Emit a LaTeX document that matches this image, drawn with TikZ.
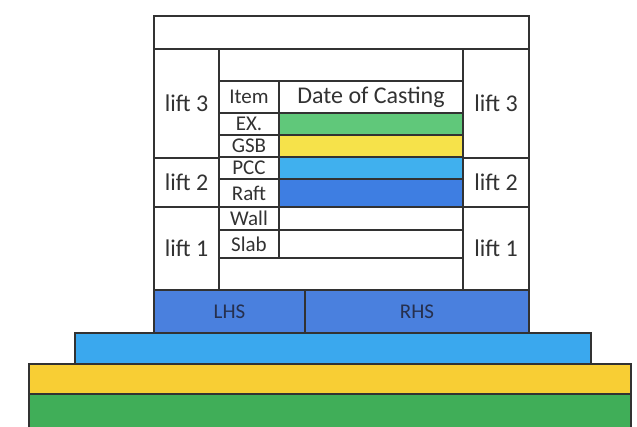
\documentclass[tikz,border=0pt]{standalone}
\usepackage{fontspec}
\setmainfont{Carlito}
\usepackage{tikz}
\usetikzlibrary{positioning}

\definecolor{inkgray}{RGB}{50,50,50}
\definecolor{inknavy}{RGB}{38,48,78}
\definecolor{exgreen}{RGB}{96,200,122}
\definecolor{gsbyellow}{RGB}{246,226,74}
\definecolor{pccblue}{RGB}{64,176,238}
\definecolor{raftblue}{RGB}{62,126,226}
\definecolor{footblue}{RGB}{74,128,222}
\definecolor{layblue}{RGB}{58,168,238}
\definecolor{layyellow}{RGB}{248,206,52}
\definecolor{laygreen}{RGB}{64,174,88}

\begin{document}
\begin{tikzpicture}[x=1pt,y=-1pt,line width=1.2pt,
  lbl/.style={text=inkgray,inner sep=0pt,font=\fontsize{24}{24}\selectfont},
  itm/.style={text=inkgray,inner sep=0pt,font=\fontsize{21}{21}\selectfont}]
  \useasboundingbox (0,0) rectangle (637,427);
  % ground layers
  \fill[laygreen] (29,394) rectangle (631,427);
  \draw[inkgray] (29,427) -- (29,394) -- (631,394) -- (631,427);
  \draw[inkgray,fill=layyellow] (29,364) rectangle (631,394);
  \draw[inkgray,fill=layblue] (75,333) rectangle (591,364);
  \draw[inkgray,fill=footblue] (154,290) rectangle (305,333);
  \draw[inkgray,fill=footblue] (305,290) rectangle (529,333);
  \node[itm,text=inknavy] (lhs) at (229.5,311.5) {LHS};
  \node[itm,text=inknavy] (rhs) at (417,311.5) {RHS};
  % frame
  \draw[inkgray] (154,16) rectangle (529,290);
  \draw[inkgray] (154,49) -- (529,49);
  \draw[inkgray] (219,49) -- (219,290);
  \draw[inkgray] (463,49) -- (463,290);
  \draw[inkgray] (154,158) -- (219,158);
  \draw[inkgray] (154,207) -- (219,207);
  \draw[inkgray] (463,158) -- (529,158);
  \draw[inkgray] (463,207) -- (529,207);
  \node[lbl] (l3a) at (186.5,103.5) {lift 3};
  \node[lbl] (l2a) at (186.5,182.5) {lift 2};
  \node[lbl] (l1a) at (186.5,248.5) {lift 1};
  \node[lbl] (l3b) at (496,103.5) {lift 3};
  \node[lbl] (l2b) at (496,182.5) {lift 2};
  \node[lbl] (l1b) at (496,248.5) {lift 1};
  % casting table
  \draw[inkgray,fill=exgreen] (279,113) rectangle (463,135);
  \draw[inkgray,fill=gsbyellow] (279,135) rectangle (463,157);
  \draw[inkgray,fill=pccblue] (279,157) rectangle (463,179);
  \draw[inkgray,fill=raftblue] (279,179) rectangle (463,207);
  \foreach \yy in {81,113,135,157,179,207,230,258}
    \draw[inkgray] (219,\yy) -- (463,\yy);
  \draw[inkgray] (279,81) -- (279,258);
  \node[itm] (item) at (249,97) {Item};
  \node[lbl] (date) at (371,97) {Date of Casting};
  \node[itm] (ex) at (249,124) {EX.};
  \node[itm] (gsb) at (249,146) {GSB};
  \node[itm] (pcc) at (249,168) {PCC};
  \node[itm] (raft) at (249,193) {Raft};
  \node[itm] (wall) at (249,218.5) {Wall};
  \node[itm] (slab) at (249,244) {Slab};
\end{tikzpicture}
\end{document}
